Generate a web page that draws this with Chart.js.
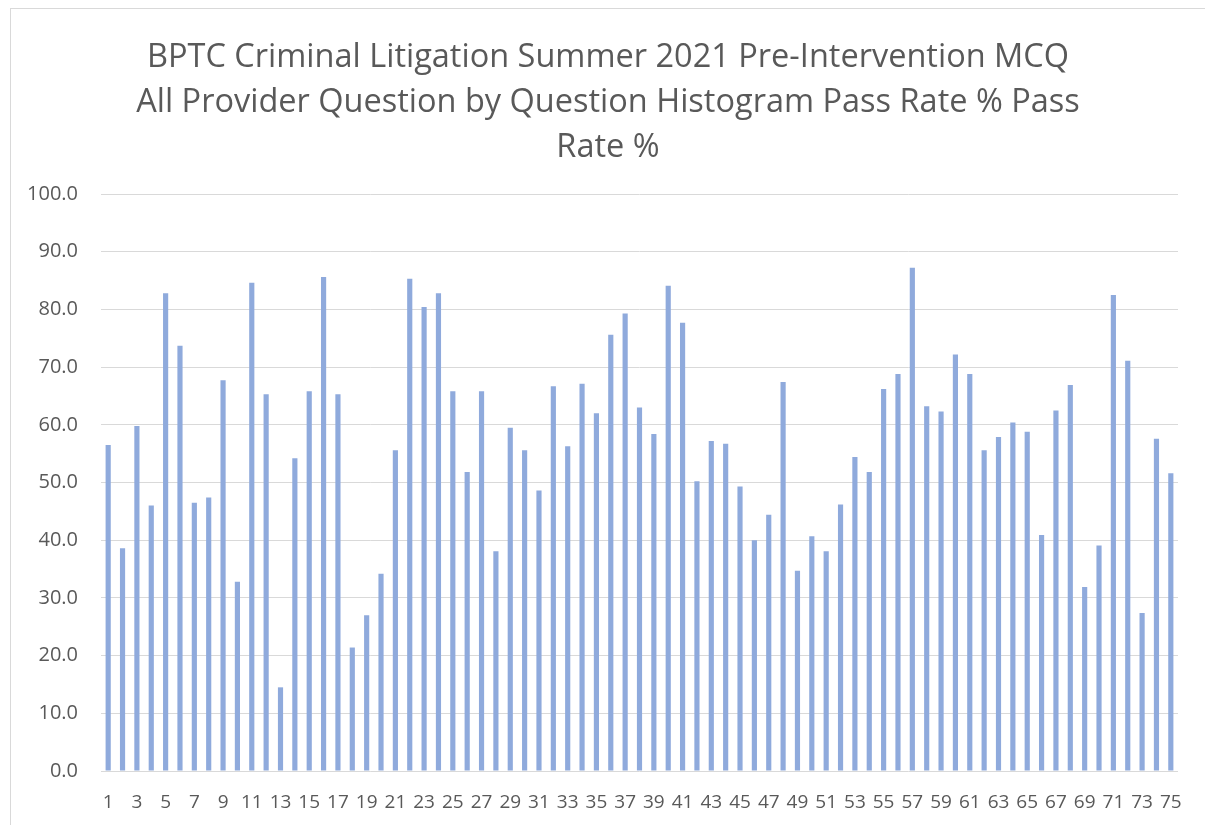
<!DOCTYPE html>
<html>
<head>
<meta charset="utf-8">
<script src="https://cdn.jsdelivr.net/npm/chart.js@4"></script>
<style>
  body { margin: 0; background: #fff; }
  #wrap {
    position: absolute; left: 10px; top: 8px;
    width: 1194px; height: 816px;
    border-left: 1px solid #d9d9d9; border-top: 1px solid #d9d9d9;
  }
</style>
</head>
<body>
<div id="wrap"><canvas id="chart" width="1194" height="816"></canvas></div>
<script>
const titleLines = [
  'BPTC Criminal Litigation Summer 2021 Pre-Intervention MCQ',
  'All Provider Question by Question Histogram Pass Rate % Pass',
  'Rate %'
];

const questions = [];
for (let q = 1; q <= 75; q++) questions.push(String(q));

const passRate = [
  56.5, 38.6, 59.8, 46.0, 82.8, 73.7, 46.5, 47.4, 67.7, 32.8,
  84.6, 65.3, 14.5, 54.2, 65.8, 85.6, 65.3, 21.4, 27.0, 34.2,
  55.6, 85.3, 80.4, 82.8, 65.8, 51.8, 65.8, 38.1, 59.5, 55.6,
  48.6, 66.7, 56.3, 67.1, 62.0, 75.6, 79.3, 63.0, 58.4, 84.1,
  77.7, 50.2, 57.2, 56.7, 49.3, 40.0, 44.4, 67.4, 34.7, 40.7,
  38.1, 46.2, 54.4, 51.8, 66.2, 68.8, 87.2, 63.2, 62.3, 72.2,
  68.8, 55.6, 57.9, 60.4, 58.8, 40.9, 62.5, 66.9, 31.9, 39.1,
  82.5, 71.1, 27.4, 57.6, 51.6
];

const textColor = '#595959';
const gridColor = '#d9d9d9';

new Chart(document.getElementById('chart'), {
  type: 'bar',
  data: {
    labels: questions,
    datasets: [{
      label: 'Pass Rate %',
      data: passRate,
      backgroundColor: '#8faadc',
      borderWidth: 0,
      barPercentage: 0.36,
      categoryPercentage: 1
    }]
  },
  options: {
    responsive: false,
    animation: false,
    layout: { padding: 0 },
    plugins: {
      legend: { display: false },
      tooltip: { enabled: false },
      title: {
        display: true,
        text: titleLines,
        color: textColor,
        font: { family: "'Open Sans', sans-serif", size: 32.5, weight: 'normal', lineHeight: '45px' },
        padding: { top: 26, bottom: 24 }
      }
    },
    scales: {
      x: {
        grid: { display: false, drawTicks: false },
        border: { display: false },
        ticks: {
          color: textColor,
          autoSkip: false,
          maxRotation: 0,
          padding: 20,
          font: { family: "'Open Sans', sans-serif", size: 19 },
          callback: (v, i) => (i % 2 === 0 ? questions[i] : '')
        },
        afterFit: axis => { axis.height = 54; }
      },
      y: {
        min: 0,
        max: 100,
        grid: { color: gridColor, lineWidth: 1, drawTicks: false },
        border: { display: false },
        ticks: {
          stepSize: 10,
          color: textColor,
          padding: 23,
          font: { family: "'Open Sans', sans-serif", size: 20 },
          callback: v => v.toFixed(1)
        },
        afterFit: axis => { axis.width = 90; }
      },
      // empty right axis only reserves the gap on the right, so the title stays centred
      spacer: {
        position: 'right',
        grid: { display: false, drawTicks: false },
        border: { display: false },
        ticks: { display: false },
        afterFit: axis => { axis.width = 27; }
      }
    }
  }
});
</script>
</body>
</html>
